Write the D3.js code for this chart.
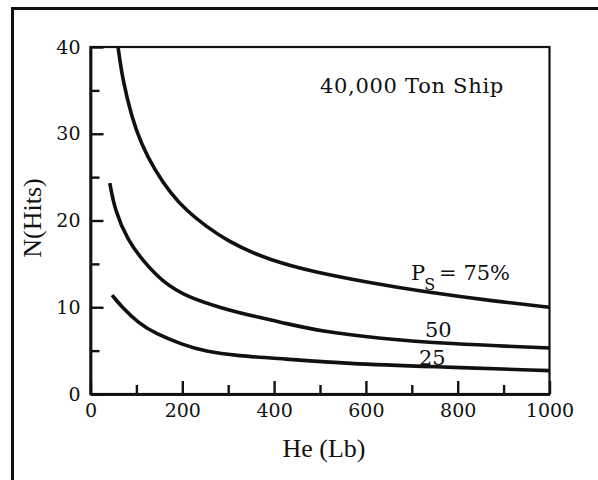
<!DOCTYPE html>
<html>
<head>
<meta charset="utf-8">
<script src="https://cdn.jsdelivr.net/npm/d3@7"></script>
<style>
  html, body { margin: 0; padding: 0; background: #fff; }
  svg { display: block; }
  .tick text { font-family: "DejaVu Serif", serif; font-size: 19px; fill: #111; }
</style>
</head>
<body>
<svg id="chart" width="598" height="480"></svg>
<script>
// ---- data ----
const heMajorTicks = [0, 200, 400, 600, 800, 1000];
const heMinorTicks = [100, 300, 500, 700, 900];
const nMajorTicks = [0, 10, 20, 30, 40];
const nMinorTicks = [5, 15, 25, 35];

const he75 = [60, 70, 90, 110, 140, 175, 210, 250, 300, 360, 420, 485, 610, 725, 880, 1000];
const n75  = [40, 36.2, 31.9, 28.9, 25.8, 23.1, 21.1, 19.4, 17.6, 16.1, 15.0, 14.1, 12.8, 11.8, 10.7, 10.0];

const he50 = [42, 53, 80, 118, 160, 210, 285, 360, 420, 505, 630, 775, 1000];
const n50  = [24.3, 21.2, 17.8, 15.1, 12.8, 11.2, 9.9, 8.9, 8.2, 7.2, 6.4, 5.8, 5.3];

const he25 = [47, 67, 104, 140, 200, 250, 320, 420, 560, 740, 1000];
const n25  = [11.4, 10.1, 8.2, 7.0, 5.7, 4.9, 4.4, 4.05, 3.5, 3.15, 2.7];

const seriesLabels = ["75%", "50", "25"];
const titleText = "40,000 Ton Ship";
const xTitle = "He (Lb)";
const yTitle = "N(Hits)";

// ---- layout ----
const svg = d3.select("#chart");
const ink = "#111";
const x = d3.scaleLinear().domain([0, 1000]).range([90.5, 549.5]);
const y = d3.scaleLinear().domain([0, 40]).range([394, 47]);

// outer border (top + left only visible)
svg.append("line").attr("x1", 12.5).attr("x2", 598).attr("y1", 8.5).attr("y2", 8.5)
  .attr("stroke", ink).attr("stroke-width", 3);
svg.append("line").attr("x1", 12.5).attr("x2", 12.5).attr("y1", 7).attr("y2", 480)
  .attr("stroke", ink).attr("stroke-width", 3);

// plot frame
svg.append("rect")
  .attr("x", x(0)).attr("y", y(40))
  .attr("width", x(1000) - x(0)).attr("height", y(0) - y(40))
  .attr("fill", "none").attr("stroke", ink).attr("stroke-width", 2.2);

// axes: major ticks with labels
const xAxis = d3.axisBottom(x).tickValues(heMajorTicks).tickSizeInner(-13).tickSizeOuter(0).tickPadding(10).tickFormat(d3.format("d"));
const yAxis = d3.axisLeft(y).tickValues(nMajorTicks).tickSizeInner(-13).tickSizeOuter(0).tickPadding(10).tickFormat(d3.format("d"));
const xMinor = d3.axisBottom(x).tickValues(heMinorTicks).tickSizeInner(-9).tickSizeOuter(0).tickFormat("");
const yMinor = d3.axisLeft(y).tickValues(nMinorTicks).tickSizeInner(-9).tickSizeOuter(0).tickFormat("");

function styleAxis(g) {
  g.select(".domain").attr("stroke", ink).attr("stroke-width", 2.4);
  g.selectAll(".tick line").attr("stroke", ink).attr("stroke-width", 2.4);
  g.attr("font-family", null).attr("font-size", null);
}
svg.append("g").attr("transform", `translate(0,${y(0)})`).call(xAxis).call(styleAxis);
svg.append("g").attr("transform", `translate(0,${y(0)})`).call(xMinor).call(styleAxis);
svg.append("g").attr("transform", `translate(${x(0)},0)`).call(yAxis).call(styleAxis);
svg.append("g").attr("transform", `translate(${x(0)},0)`).call(yMinor).call(styleAxis);

// curves
const line = d3.line().x(d => x(d[0])).y(d => y(d[1])).curve(d3.curveBasis);
[[he75, n75], [he50, n50], [he25, n25]].forEach(([hs, ns]) => {
  svg.append("path")
    .attr("d", line(hs.map((h, i) => [h, ns[i]])))
    .attr("fill", "none").attr("stroke", ink).attr("stroke-width", 3.6)
    .attr("stroke-linecap", "butt");
});

// axis titles
svg.append("text").attr("x", 324).attr("y", 457).attr("text-anchor", "middle")
  .attr("font-family", "Liberation Serif, serif").attr("font-size", 26).attr("fill", ink)
  .text(xTitle);
svg.append("text").attr("transform", "translate(41,218) rotate(-90)").attr("text-anchor", "middle")
  .attr("font-family", "Liberation Serif, serif").attr("font-size", 26).attr("fill", ink)
  .text(yTitle);

// annotation
svg.append("text").attr("x", 320).attr("y", 93)
  .attr("font-family", "DejaVu Serif, serif").attr("font-size", 21).attr("letter-spacing", 0.7).attr("fill", ink)
  .text(titleText);

// series labels
const ps = svg.append("text").attr("x", 411).attr("y", 280)
  .attr("font-family", "DejaVu Serif, serif").attr("font-size", 21).attr("fill", ink);
ps.append("tspan").text("P");
ps.append("tspan").attr("font-size", 16).attr("dy", 10).attr("dx", -1).text("S");
ps.append("tspan").attr("dy", -10).attr("dx", 4).text("= " + seriesLabels[0]);

svg.append("text").attr("x", 425).attr("y", 337)
  .attr("font-family", "DejaVu Serif, serif").attr("font-size", 21).attr("fill", ink)
  .text(seriesLabels[1]);
svg.append("text").attr("x", 419).attr("y", 365)
  .attr("font-family", "DejaVu Serif, serif").attr("font-size", 21).attr("fill", ink)
  .text(seriesLabels[2]);
</script>
</body>
</html>
